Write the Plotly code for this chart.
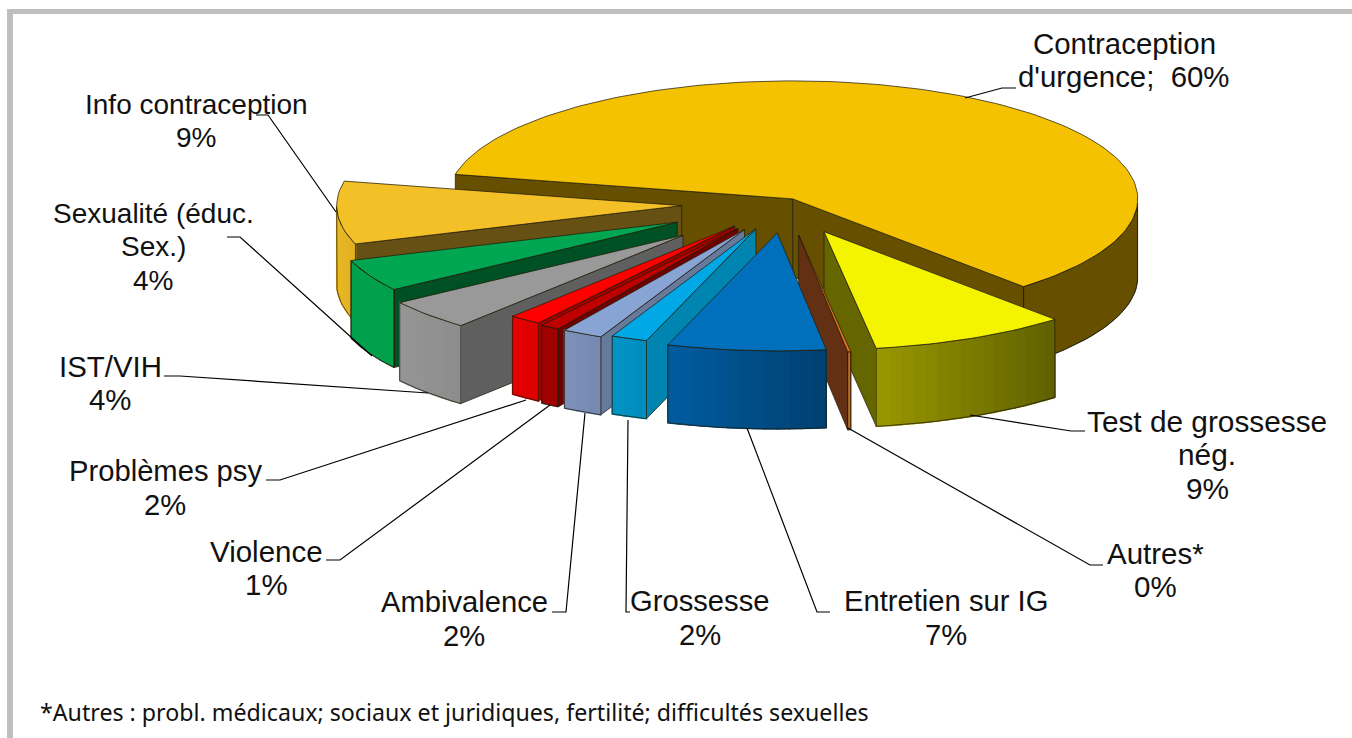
import math
import plotly.graph_objects as go

# ---------- data ----------
categories = ["Contraception d'urgence", "Test de grossesse nég.", "Autres*", "Entretien sur IG",
              "Grossesse", "Ambivalence", "Violence", "Problèmes psy", "IST/VIH",
              "Sexualité (éduc. Sex.)", "Info contraception"]
values = [60.0, 9.25, 0.15, 7.4, 1.7, 1.9, 0.9, 1.5, 4.2, 4.4, 8.6]
explode = [0.045, 0.264, 0.27, 0.25, 0.23, 0.25, 0.25, 0.24, 0.40, 0.35, 0.30]

# label lines (the last line of each label is the rounded percentage)
label_lines = [["Contraception", "d'urgence;  {p}%"], ["Test de grossesse", "nég.", "{p}%"], ["Autres*", "{p}%"],
               ["Entretien sur IG", "{p}%"], ["Grossesse", "{p}%"], ["Ambivalence", "{p}%"], ["Violence", "{p}%"],
               ["Problèmes psy", "{p}%"], ["IST/VIH", "{p}%"], ["Sexualité (éduc.", "Sex.)", "{p}%"],
               ["Info contraception", "{p}%"]]
footnote = "*Autres : probl. médicaux; sociaux et juridiques, fertilité; difficultés sexuelles"

# ---------- styles ----------
top_col = ["#F4C200", "#F4F400", "#E07020", "#0070BC", "#00A8E6", "#88A4D4", "#C00000", "#FF0000", "#999999", "#00A651", "#F3C028"]
rim_left = ["#665000", "#9A9800", "#C06A24", "#005CA0", "#0094C6", "#7E92BC", "#A00000", "#E40000", "#969696", "#00A04C", "#E8B825"]
rim_right = ["#665000", "#5F6000", "#C06A24", "#004070", "#008CBC", "#7488B0", "#A00000", "#DC0000", "#8C8C8C", "#00A04C", "#E0B020"]
wall_col = ["#665000", "#666600", "#643014", "#004070", "#0084B0", "#667A9E", "#700000", "#A00000", "#5F5F5F", "#005025", "#665014"]
edge_col = "rgba(35,30,10,0.75)"
draw_order = [0, 10, 9, 8, 7, 6, 5, 4, 1, 2, 3]
start_angle = 282.0
CX, CY, RX, RY, DEPTH = 785.0, 203.5, 345.0, 118.0, 78.0

# label anchor (centre x, first line y), font size and leader lines
label_pos = [(1124, 43), (1207, 421), (1155, 553), (946, 601), (700, 601), (464, 602), (266, 551), (165, 471), (110, 366), (153, 213), (196, 104)]
label_size = [29.4, 29.8, 29.5, 29.2, 29.2, 29.2, 29.5, 29.2, 29.4, 28, 28]
line_gap = 33.5
leaders = [[(965, 98), (1002, 88), (1016, 88)], [(970, 415), (1071, 431), (1085, 431)], [(848, 428), (1090, 565), (1103, 565)],
           [(747, 428), (817, 612), (830, 612)], [(628, 420), (626, 612), (630, 612)], [(585, 413), (566, 612), (552, 612)],
           [(550, 405), (340, 560), (326, 560)], [(526, 400), (280, 480), (266, 480)], [(428, 393), (180, 376), (164, 376)],
           [(372, 356), (240, 237), (227, 237)], [(336, 212), (268, 115), (256, 115)]]


def mix(c1, c2, t):
    a = [int(c1[i:i + 2], 16) for i in (1, 3, 5)]
    b = [int(c2[i:i + 2], 16) for i in (1, 3, 5)]
    return "rgb(%d,%d,%d)" % tuple(round(u + (v - u) * t) for u, v in zip(a, b))


fig = go.Figure()


def poly(xs, ys, fill, line=None, width=1.0):
    fig.add_trace(go.Scatter(x=list(xs) + [xs[0]], y=list(ys) + [ys[0]], mode="lines", fill="toself",
                             fillcolor=fill, line=dict(color=line or fill, width=width),
                             hoverinfo="skip", showlegend=False))


total = sum(values)
spans = []
a = start_angle
for v in values:
    spans.append((a, a + v / total * 360.0))
    a += v / total * 360.0


def pt(ax, ay, ang):
    t = math.radians(ang)
    return ax + RX * math.sin(t), ay - RY * math.cos(t)


for i in draw_order:
    a1, a2 = spans[i]
    mid = math.radians((a1 + a2) / 2)
    ax = CX + explode[i] * RX * math.sin(mid)
    ay = CY - explode[i] * RY * math.cos(mid)
    # cut walls that face the viewer
    for ang, normal in ((a1, a1 - 90), (a2, a2 + 90)):
        if math.cos(math.radians(normal)) < 0:
            x, y = pt(ax, ay, ang)
            poly([ax, x, x, ax], [ay, y, y + DEPTH, ay + DEPTH], wall_col[i], edge_col)
    # outer rim, shaded from left to right
    n = max(2, int((a2 - a1) / 2))
    angs = [a1 + (a2 - a1) * k / n for k in range(n + 1)]
    rim = [pt(ax, ay, ang) for ang in angs if math.cos(math.radians(ang)) < 0]
    if len(rim) >= 2:
        xs = [p[0] for p in rim] + [p[0] for p in rim[::-1]]
        ys = [p[1] for p in rim] + [p[1] + DEPTH for p in rim[::-1]]
        poly(xs, ys, mix(rim_left[i], rim_right[i], 0.5), edge_col)
        if rim_left[i] != rim_right[i]:
            xmin = min(p[0] for p in rim)
            xmax = max(p[0] for p in rim)
            for p, q in zip(rim[:-1], rim[1:]):
                t = ((p[0] + q[0]) / 2 - xmin) / max(xmax - xmin, 1)
                col = mix(rim_left[i], rim_right[i], t)
                poly([p[0], q[0], q[0], p[0]], [p[1], q[1], q[1] + DEPTH, p[1] + DEPTH], col, col, 1.5)
        fig.add_trace(go.Scatter(x=xs + [xs[0]], y=ys + [ys[0]], mode="lines",
                                 line=dict(color=edge_col, width=1), hoverinfo="skip", showlegend=False))
    # top face
    n = max(2, int((a2 - a1) / 1.5))
    arc = [pt(ax, ay, a1 + (a2 - a1) * k / n) for k in range(n + 1)]
    poly([ax] + [p[0] for p in arc], [ay] + [p[1] for p in arc], top_col[i], edge_col)

# leader lines
for path in leaders:
    fig.add_trace(go.Scatter(x=[p[0] for p in path], y=[p[1] for p in path], mode="lines",
                             line=dict(color="#000000", width=1.2), hoverinfo="skip", showlegend=False))

annots = []
for v, lines, (lx, ly), fs in zip(values, label_lines, label_pos, label_size):
    for k, s in enumerate(lines):
        annots.append(dict(x=lx, y=ly + k * line_gap, text=s.format(p=round(v)), showarrow=False, xanchor="center",
                           yanchor="middle", font=dict(family="Liberation Sans", size=fs, color="#111111")))
annots.append(dict(x=38, y=712, text=footnote, showarrow=False, xanchor="left", yanchor="middle",
                   font=dict(family="Noto Sans", size=23.2, color="#111111")))

fig.update_layout(
    width=1352, height=738, margin=dict(l=0, r=0, t=0, b=0), paper_bgcolor="white", plot_bgcolor="white",
    xaxis=dict(range=[0, 1352], visible=False, domain=[0, 1]),
    yaxis=dict(range=[738, 0], visible=False, domain=[0, 1]),
    annotations=annots, showlegend=False,
    shapes=[dict(type="line", x0=7, x1=1352, y0=11.5, y1=11.5, line=dict(color="#BFBFBF", width=5)),
            dict(type="line", x0=10, x1=10, y0=9, y1=738, line=dict(color="#BFBFBF", width=6))])
fig.write_html("out.html", config=dict(displayModeBar=False),
               post_script="document.body.style.margin='0';document.body.style.overflow='hidden';")
